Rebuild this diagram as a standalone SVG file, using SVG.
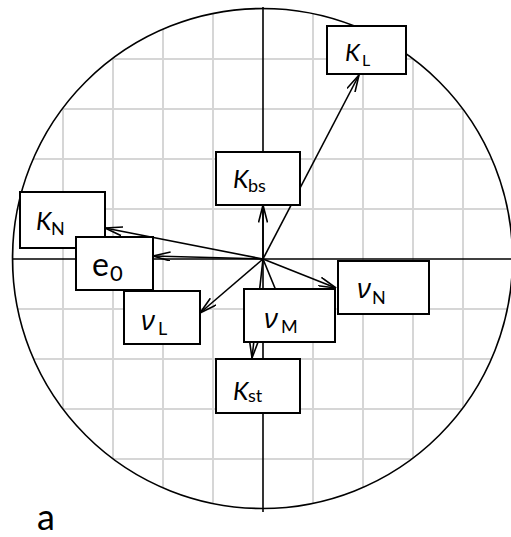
<svg xmlns="http://www.w3.org/2000/svg" width="511" height="537" viewBox="0 0 511 537">
<style>
.grid line{stroke:#d6d6d6;stroke-width:2}
.axis{stroke:#000;stroke-width:1.6;fill:none}
.conn line{stroke:#000;stroke-width:1.6;marker-end:url(#arr)}
.box{fill:#fff;stroke:#000;stroke-width:2}
text{font-family:Lato,"Open Sans","Liberation Sans",sans-serif;fill:#000}
.it{font-style:italic}
.nu{font-family:"Open Sans",Lato,"Liberation Sans",sans-serif;font-style:italic}
</style>
<defs>
<clipPath id="cc"><circle cx="262.5" cy="258.5" r="250"/></clipPath>
<marker id="arr" markerUnits="userSpaceOnUse" viewBox="0 0 18 10" refX="17.5" refY="5" markerWidth="18" markerHeight="10" orient="auto">
<path d="M0,0.5 L17.5,5 L0,9.5" fill="none" stroke="#000" stroke-width="1.6"/>
</marker>
</defs>
<rect width="511" height="537" fill="#fff"/>
<g class="grid" clip-path="url(#cc)">
<line x1="13" y1="0" x2="13" y2="537"/><line x1="63" y1="0" x2="63" y2="537"/><line x1="113" y1="0" x2="113" y2="537"/><line x1="163" y1="0" x2="163" y2="537"/><line x1="213" y1="0" x2="213" y2="537"/><line x1="313" y1="0" x2="313" y2="537"/><line x1="363" y1="0" x2="363" y2="537"/><line x1="413" y1="0" x2="413" y2="537"/><line x1="463" y1="0" x2="463" y2="537"/>
<line x1="0" y1="9" x2="511" y2="9"/><line x1="0" y1="59" x2="511" y2="59"/><line x1="0" y1="109" x2="511" y2="109"/><line x1="0" y1="159" x2="511" y2="159"/><line x1="0" y1="209" x2="511" y2="209"/><line x1="0" y1="309" x2="511" y2="309"/><line x1="0" y1="359" x2="511" y2="359"/><line x1="0" y1="409" x2="511" y2="409"/><line x1="0" y1="459" x2="511" y2="459"/><line x1="0" y1="509" x2="511" y2="509"/>
</g>
<circle class="axis" cx="262.5" cy="258.5" r="250"/>
<line class="axis" x1="263" y1="7" x2="263" y2="512"/>
<line class="axis" x1="12" y1="259" x2="511" y2="259"/>
<g id="connectors" class="conn">
<line x1="263" y1="259" x2="359" y2="75"/>
<line x1="263" y1="259" x2="263" y2="205"/>
<line x1="263" y1="259" x2="105" y2="228"/>
<line x1="263" y1="259" x2="153" y2="256"/>
<line x1="263" y1="259" x2="200" y2="313"/>
<line x1="263" y1="259" x2="336" y2="288"/>
<line x1="263" y1="259" x2="252" y2="358"/>
<line x1="263" y1="259" x2="284" y2="310"/>
</g>
<g id="K_L"><rect class="box" x="327" y="26" width="79" height="48"/><text class="it" x="345" y="61" font-size="24">K</text><text x="362" y="66" font-size="16">L</text></g>
<g id="K_bs"><rect class="box" x="216" y="152" width="84" height="53"/><text class="it" x="233" y="188" font-size="25">K</text><text x="248" y="192" font-size="18">bs</text></g>
<g id="K_N"><rect class="box" x="20" y="192" width="85" height="56"/><text class="it" x="36" y="230" font-size="25">K</text><text x="51" y="235" font-size="18">N</text></g>
<g id="e0"><rect class="box" x="76" y="237" width="77" height="53"/><text x="92" y="276" font-size="32">e</text><text x="110" y="281" font-size="22">0</text></g>
<g id="nu_L"><rect class="box" x="124" y="291" width="76" height="53"/><text class="nu" x="141" y="330" font-size="28">ν</text><text x="158" y="335" font-size="18">L</text></g>
<g id="nu_M"><rect class="box" x="244" y="289" width="91" height="53"/><text class="nu" x="264" y="328" font-size="28">ν</text><text x="281" y="333" font-size="18">M</text></g>
<g id="nu_N"><rect class="box" x="338" y="261" width="91" height="53"/><text class="nu" x="357" y="298" font-size="28">ν</text><text x="372" y="304" font-size="18">N</text></g>
<g id="K_st"><rect class="box" x="216" y="359" width="84" height="54"/><text class="it" x="233" y="400" font-size="25">K</text><text x="248" y="402" font-size="18">st</text></g>
<text x="37" y="530" font-size="36">a</text>
</svg>
